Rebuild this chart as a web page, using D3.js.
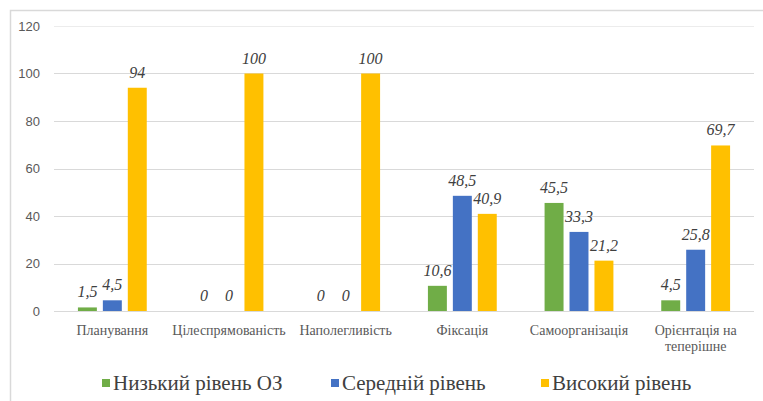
<!DOCTYPE html>
<html>
<head>
<meta charset="utf-8">
<script src="https://cdn.jsdelivr.net/npm/d3@7"></script>
<style>
  body { margin: 0; background: #fff; }
  svg { display: block; }
  .serif { font-family: "Liberation Serif", "Tinos", "DejaVu Serif", serif; }
</style>
</head>
<body>
<div id="visual"></div>
<script>
// chart data
const categories = ["Планування", "Цілеспрямованість", "Наполегливість", "Фіксація", "Самоорганізація", "Орієнтація на теперішне"];
const seriesNames = ["Низький рівень ОЗ", "Середній рівень", "Високий рівень"];
const lowValues = [1.5, 0, 0, 10.6, 45.5, 4.5];
const midValues = [4.5, 0, 0, 48.5, 33.3, 25.8];
const highValues = [94, 100, 100, 40.9, 21.2, 69.7];
const yTicks = [0, 20, 40, 60, 80, 100, 120];
const colors = ["#70ad47", "#4472c4", "#ffc000"];

const W = 763, H = 401;
const margin = { top: 26, right: 9, bottom: 90, left: 54 };
const width = W - margin.left - margin.right;
const height = 311 - margin.top;

const svg = d3.select("#visual")
    .append("svg")
    .attr("width", W)
    .attr("height", H);

// outer frame (only left and top edges fall inside the picture)
svg.append("rect")
    .attr("x", 10.5).attr("y", 10.5)
    .attr("width", 800).attr("height", 420)
    .attr("fill", "none")
    .attr("stroke", "#d9d9d9")
    .attr("stroke-width", 1.5);

const g = svg.append("g")
    .attr("transform", "translate(" + margin.left + "," + margin.top + ")");

const x0 = d3.scaleBand()
    .domain(categories)
    .range([0, width])
    .paddingInner(0.41)
    .paddingOuter(0.205);

const x1 = d3.scaleBand()
    .domain(seriesNames)
    .range([0, x0.bandwidth()])
    .paddingInner(0.24);

const y = d3.scaleLinear()
    .domain([0, 120])
    .range([height, 0]);

// gridlines
g.append("g")
    .selectAll("line")
    .data(yTicks)
    .enter()
    .append("line")
    .attr("x1", 0)
    .attr("x2", width)
    .attr("y1", d => Math.round(y(d)) + 0.5)
    .attr("y2", d => Math.round(y(d)) + 0.5)
    .attr("stroke", d => d === 120 ? "#ececec" : "#d9d9d9")
    .attr("stroke-width", 1.2);

// y axis labels
const yAxis = g.append("g")
    .call(d3.axisLeft(y).tickValues(yTicks).tickSize(0).tickPadding(14));
yAxis.select(".domain").remove();
yAxis.selectAll("text")
    .attr("fill", "#595959")
    .style("font-family", "'Liberation Sans', Arial, sans-serif")
    .style("font-size", "13px");

// bars
const seriesData = [lowValues, midValues, highValues];
const groups = g.selectAll(".grp")
    .data(categories)
    .enter()
    .append("g")
    .attr("class", "grp")
    .attr("transform", d => "translate(" + x0(d) + ",0)");

groups.selectAll("rect")
    .data((c, i) => seriesNames.map((s, k) => ({ s: s, k: k, v: seriesData[k][i] })))
    .enter()
    .append("rect")
    .attr("x", d => x1(d.s))
    .attr("y", d => y(d.v))
    .attr("width", x1.bandwidth())
    .attr("height", d => height - y(d.v))
    .attr("fill", d => colors[d.k]);

// value labels
const fmt = v => String(v).replace(".", ",");
groups.selectAll("text")
    .data((c, i) => seriesNames.map((s, k) => ({ s: s, k: k, v: seriesData[k][i] })))
    .enter()
    .append("text")
    .attr("class", "serif")
    .attr("x", d => x1(d.s) + x1.bandwidth() / 2)
    .attr("y", d => y(d.v) - 10)
    .attr("text-anchor", "middle")
    .attr("fill", "#404040")
    .style("font-style", "italic")
    .style("font-size", "16px")
    .text(d => fmt(d.v));

// x axis labels
const xAxis = g.append("g")
    .attr("transform", "translate(0," + height + ")")
    .call(d3.axisBottom(x0).tickSize(0).tickPadding(14));
xAxis.attr("font-family", null);
xAxis.select(".domain").remove();
xAxis.selectAll("text")
    .attr("class", "serif")
    .attr("fill", "#595959")
    .style("font-size", "14px")
    .call(wrap, x0.step() - 6);

function wrap(texts, maxW) {
    texts.each(function () {
        const text = d3.select(this);
        const words = text.text().split(/\s+/);
        const yy = text.attr("y");
        const dy = parseFloat(text.attr("dy"));
        text.text(null);
        let line = [];
        let lineNo = 0;
        let tspan = text.append("tspan").attr("x", 0).attr("y", yy).attr("dy", dy + "em");
        words.forEach(w => {
            line.push(w);
            tspan.text(line.join(" "));
            if (tspan.node().getComputedTextLength() > maxW && line.length > 1) {
                line.pop();
                tspan.text(line.join(" "));
                line = [w];
                lineNo++;
                tspan = text.append("tspan").attr("x", 0).attr("y", yy)
                    .attr("dy", (dy + lineNo * 1.15) + "em").text(w);
            }
        });
    });
}

// legend
const legendX = [102, 331, 541];
const legend = svg.append("g")
    .selectAll("g")
    .data(seriesNames)
    .enter()
    .append("g")
    .attr("transform", (d, i) => "translate(" + legendX[i] + ",383)");

legend.append("rect")
    .attr("x", 0)
    .attr("y", -4)
    .attr("width", 8)
    .attr("height", 8)
    .attr("fill", (d, i) => colors[i]);

legend.append("text")
    .attr("class", "serif")
    .attr("x", 11)
    .attr("y", 7)
    .attr("fill", "#404040")
    .style("font-size", "21px")
    .text(d => d);
</script>
</body>
</html>
